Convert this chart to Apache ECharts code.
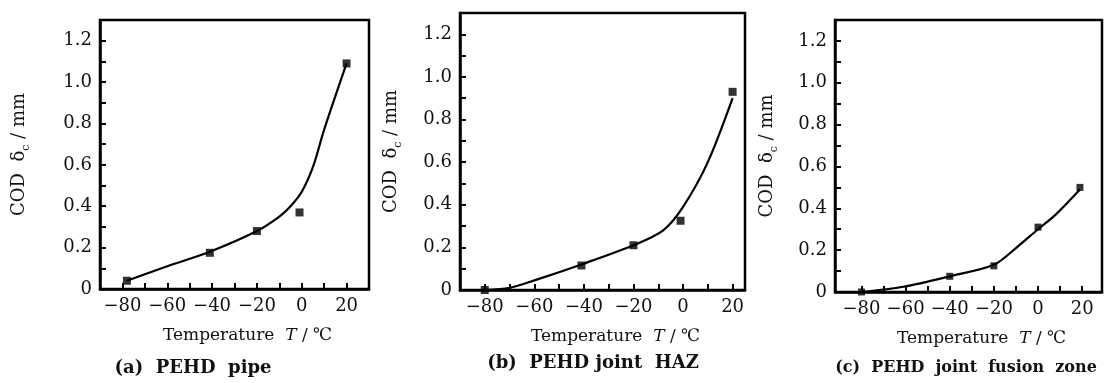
<!DOCTYPE html>
<html>
<head>
<meta charset="utf-8">
<script src="https://cdn.jsdelivr.net/npm/echarts@6/dist/echarts.min.js"></script>
<style>
html,body{margin:0;padding:0;background:#fff;}
#chart{width:1106px;height:383px;}
</style>
</head>
<body>
<div id="chart"></div>
<script>
// ---- tick values ----
const xTickValues = [-80, -70, -60, -50, -40, -30, -20, -10, 0, 10, 20];
const xLabelValues = [-80, -60, -40, -20, 0, 20];
const yTickValues = [0, 0.1, 0.2, 0.3, 0.4, 0.5, 0.6, 0.7, 0.8, 0.9, 1.0, 1.1, 1.2];
const yLabelValues = [0, 0.2, 0.4, 0.6, 0.8, 1.0, 1.2];

// ---- (a) PEHD pipe ----
const pointsA = [[-78, 0.04], [-41, 0.175], [-20, 0.28], [-1, 0.37], [20, 1.09]];
const curveA = [[-78, 0.04], [-60, 0.11], [-41, 0.18], [-20, 0.28], [-10, 0.35], [-5, 0.40], [0, 0.47], [5, 0.59], [10, 0.77], [20, 1.09]];

// ---- (b) PEHD joint HAZ ----
const pointsB = [[-80, 0], [-41, 0.115], [-20, 0.21], [-1, 0.325], [20, 0.93]];
const curveB = [[-80, 0], [-70, 0.01], [-60, 0.045], [-41, 0.12], [-20, 0.21], [-8, 0.28], [0, 0.39], [10, 0.60], [20, 0.90]];

// ---- (c) PEHD joint fusion zone ----
const pointsC = [[-80, 0], [-40, 0.075], [-20, 0.125], [0, 0.31], [19, 0.50]];
const curveC = [[-80, 0], [-61, 0.025], [-40, 0.075], [-20, 0.13], [-10, 0.21], [0, 0.30], [8, 0.37], [19, 0.49]];

const captionsText = ['(a)  PEHD  pipe', '(b)  PEHD joint  HAZ', '(c)  PEHD  joint  fusion  zone'];
const xName = ['Temperature  ', 'T', ' / ℃'];
const yName = ['COD  δ', 'c', ' / mm'];

const FONT = 'DejaVu Serif';
const grids = [
  {left: 100, top: 20, width: 269, height: 269},
  {left: 460, top: 13, width: 285, height: 277},
  {left: 835, top: 20, width: 267, height: 272}
];
const xRanges = [[-90, 30], [-90, 25], [-92, 29]];
const yNameGaps = [68, 56, 55];

function fmtX(v) { return v < 0 ? '\u2212' + Math.abs(v) : String(v); }
function fmtY(v) { return v === 0 ? '0' : Number(v).toFixed(1); }

const option = {
  backgroundColor: '#fff',
  animation: false,
  grid: grids.map(g => Object.assign({show: true, borderColor: '#000', borderWidth: 2.5, backgroundColor: 'transparent', outerBoundsMode: 'none', containLabel: false}, g)),
  xAxis: xRanges.map((r, i) => ({
    type: 'value', gridIndex: i, min: r[0], max: r[1],
    axisLine: {show: true, onZero: false, lineStyle: {color: '#000', width: 2.5}},
    axisTick: {show: true, inside: true, length: 6, lineStyle: {color: '#000', width: 2}, customValues: xTickValues},
    axisLabel: {show: true, customValues: xLabelValues, formatter: fmtX, color: '#111', fontFamily: FONT, fontSize: 18, margin: 8},
    splitLine: {show: false},
    name: '{n|' + xName[0] + '}{i|' + xName[1] + '}{n|' + xName[2] + '}',
    nameLocation: 'middle', nameGap: 38,
    nameTextStyle: {padding: [0, 0, 0, 26], rich: {
      n: {fontFamily: FONT, fontSize: 17, color: '#111'},
      i: {fontFamily: FONT, fontSize: 17, fontStyle: 'italic', color: '#111'}
    }}
  })),
  yAxis: [0, 1, 2].map(i => ({
    type: 'value', gridIndex: i, min: 0, max: 1.3,
    axisLine: {show: true, onZero: false, lineStyle: {color: '#000', width: 2.5}},
    axisTick: {show: true, inside: true, length: 6, lineStyle: {color: '#000', width: 2}, customValues: yTickValues},
    axisLabel: {show: true, customValues: yLabelValues, formatter: fmtY, color: '#111', fontFamily: FONT, fontSize: 18, margin: 8},
    splitLine: {show: false},
    name: '{n|' + yName[0] + '}{s|' + yName[1] + '}{n|' + yName[2] + '}',
    nameLocation: 'middle', nameGap: yNameGaps[i],
    nameTextStyle: {rich: {
      n: {fontFamily: FONT, fontSize: 18, color: '#111', lineHeight: 26},
      s: {fontFamily: FONT, fontSize: 11, color: '#111', lineHeight: 26, verticalAlign: 'bottom'}
    }}
  })),
  series: [
    {type: 'line', xAxisIndex: 0, yAxisIndex: 0, data: curveA, smooth: 0.3, showSymbol: false, lineStyle: {color: '#000', width: 2.2}},
    {type: 'scatter', xAxisIndex: 0, yAxisIndex: 0, data: pointsA, symbol: 'rect', symbolSize: 8, itemStyle: {color: '#000'}},
    {type: 'line', xAxisIndex: 1, yAxisIndex: 1, data: curveB, smooth: 0.3, showSymbol: false, lineStyle: {color: '#000', width: 2.2}},
    {type: 'scatter', xAxisIndex: 1, yAxisIndex: 1, data: pointsB, symbol: 'rect', symbolSize: 8, itemStyle: {color: '#000'}},
    {type: 'line', xAxisIndex: 2, yAxisIndex: 2, data: curveC, smooth: 0.3, showSymbol: false, lineStyle: {color: '#000', width: 2.2}},
    {type: 'scatter', xAxisIndex: 2, yAxisIndex: 2, data: pointsC, symbol: 'rect', symbolSize: 7, itemStyle: {color: '#000'}}
  ],
  graphic: [
    {type: 'text', x: 193, y: 368, style: {text: captionsText[0], fontFamily: FONT, fontSize: 18, fontWeight: 'bold', fill: '#111', align: 'center', verticalAlign: 'middle', textAlign: 'center', textVerticalAlign: 'middle'}},
    {type: 'text', x: 593, y: 363, style: {text: captionsText[1], fontFamily: FONT, fontSize: 18, fontWeight: 'bold', fill: '#111', align: 'center', verticalAlign: 'middle', textAlign: 'center', textVerticalAlign: 'middle'}},
    {type: 'text', x: 966, y: 368, style: {text: captionsText[2], fontFamily: FONT, fontSize: 16, fontWeight: 'bold', fill: '#111', align: 'center', verticalAlign: 'middle', textAlign: 'center', textVerticalAlign: 'middle'}}
  ]
};

const chart = echarts.init(document.getElementById('chart'), null, {renderer: 'canvas'});
chart.setOption(option);
</script>
</body>
</html>
